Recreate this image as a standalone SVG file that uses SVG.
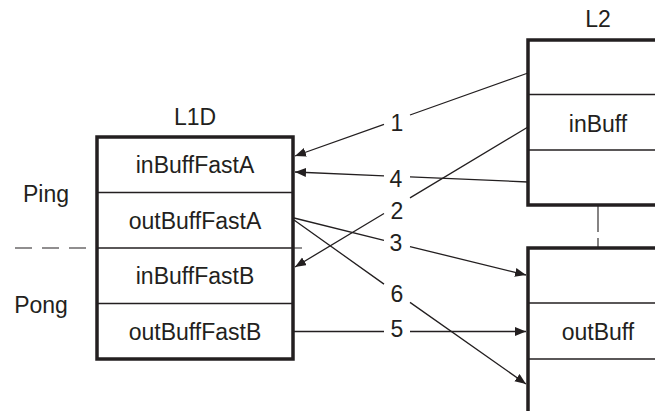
<svg xmlns="http://www.w3.org/2000/svg" width="655" height="411" viewBox="0 0 655 411">
<defs>
<marker id="ah" markerWidth="12" markerHeight="10" refX="11" refY="4.5" orient="auto" markerUnits="userSpaceOnUse">
<path d="M0,0 L11,4.5 L0,9 Z" fill="#231f20"/>
</marker>
<style>
text{font-family:"Liberation Sans",Arial,sans-serif;font-size:23px;fill:#231f20;text-anchor:middle}
.box{fill:#fff;stroke:#231f20;stroke-width:3.5}
.div{stroke:#231f20;stroke-width:1.3;fill:none}
.dash{stroke:#231f20;stroke-width:1.1;fill:none}
.c{stroke:#231f20;stroke-width:1.3;fill:none;marker-end:url(#ah)}
</style>
</defs>
<rect width="655" height="411" fill="#fff"/>
<g id="separators">
<line class="dash" x1="15" y1="248" x2="308" y2="248" stroke-dasharray="17 10"/>
<line class="dash" x1="598" y1="206" x2="598" y2="248" stroke-dasharray="26 6"/>
</g>
<g id="L1D">
<rect class="box" x="97" y="137" width="196" height="222"/>
<line class="div" x1="97" y1="192.5" x2="293" y2="192.5"/>
<line class="div" x1="97" y1="248" x2="293" y2="248"/>
<line class="div" x1="97" y1="303.5" x2="293" y2="303.5"/>
<text x="195" y="125">L1D</text>
<text x="195" y="173">inBuffFastA</text>
<text x="195" y="229">outBuffFastA</text>
<text x="195" y="284">inBuffFastB</text>
<text x="195" y="340">outBuffFastB</text>
</g>
<g id="L2">
<rect class="box" x="528" y="40" width="145" height="165"/>
<line class="div" x1="528" y1="94.5" x2="673" y2="94.5"/>
<line class="div" x1="528" y1="150" x2="673" y2="150"/>
<text x="598" y="27">L2</text>
<text x="598" y="132">inBuff</text>
</g>
<g id="lower">
<rect class="box" x="528" y="248" width="145" height="170"/>
<line class="div" x1="528" y1="303" x2="673" y2="303"/>
<line class="div" x1="528" y1="359" x2="673" y2="359"/>
<text x="598" y="340">outBuff</text>
</g>
<g id="labels">
<text x="46" y="202">Ping</text>
<text x="41" y="313">Pong</text>
</g>
<g id="connectors">
<path class="c" d="M528,73 L410,115 M384,124.3 L295,156"/>
<path class="c" d="M528,182 L410,176.9 M384,175.8 L295,172"/>
<path class="c" d="M528,127 L410,197.9 M384,213.5 L295,267"/>
<path class="c" d="M294,218 L384,240.3 M410,246.6 L526,275"/>
<path class="c" d="M294,220 L384,284.1 M410,302.4 L526,384"/>
<path class="c" d="M294,331.5 L384,331.5 M410,331.5 L526,331.5"/>
<text x="397" y="131">1</text>
<text x="396" y="187">4</text>
<text x="397" y="219">2</text>
<text x="396" y="251">3</text>
<text x="397" y="302">6</text>
<text x="397" y="337">5</text>
</g>
</svg>
